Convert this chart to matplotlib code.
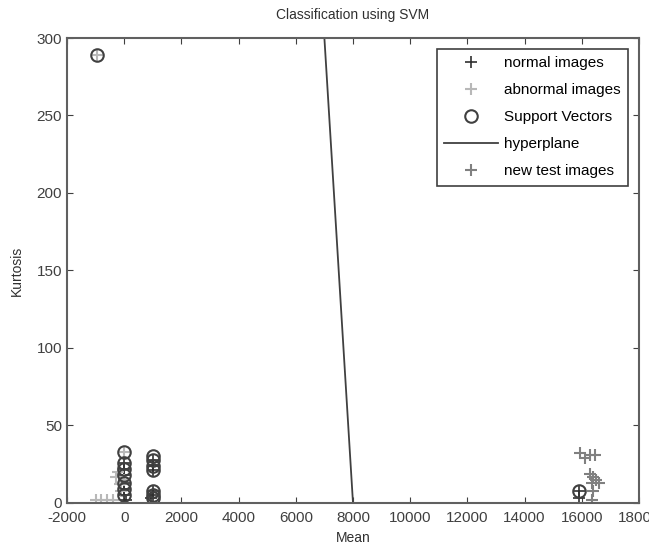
import matplotlib.pyplot as plt

# training points
normal_x = [0, 0, 0, 0, 0, 0, 50, 1000, 1000, 1000, 1000, 1000, 950, 15900, 15900]
normal_y = [26, 22, 18, 13, 9, 5, 2, 28, 24, 21, 8, 5, 3, 8, 3]

abnormal_x = [-950, -1000, -800, -600, -400, -300, -200, -150, -100, 0, 0]
abnormal_y = [289, 2, 2, 2, 2, 17, 20, 12, 8, 33, 15]

# support vectors
sv_x = [-950, 0, 0, 0, 0, 0, 0, 0, 1000, 1000, 1000, 1000, 1000, 1000, 1000, 15900]
sv_y = [289, 33, 26, 22, 18, 13, 9, 5, 30, 28, 24, 21, 8, 5, 3, 8]

# separating line
hp_x = [7000, 8000]
hp_y = [300, 0]

# new test images
test_x = [15950, 16100, 16300, 16450, 16300, 16400, 16500, 16600, 16350, 16400, 16350]
test_y = [32, 29, 31, 31, 19, 17, 15, 13, 13, 8, 2]

xticks = list(range(-2000, 18001, 2000))
yticks = list(range(0, 301, 50))

plt.rcParams["font.family"] = ["Liberation Sans", "DejaVu Sans"]
plt.rcParams["axes.unicode_minus"] = False

fig = plt.figure(figsize=(6.49, 5.54), dpi=100)
ax = fig.add_axes([0.1032, 0.0921, 0.8814, 0.8393])

ax.plot(normal_x, normal_y, "+", color="#303030", markersize=8, mew=1.2,
        linestyle="none", label="normal images")
ax.plot(abnormal_x, abnormal_y, "+", color="#b8b8b8", markersize=8, mew=1.5,
        linestyle="none", label="abnormal images")
ax.plot(sv_x, sv_y, "o", markerfacecolor="none", markeredgecolor="#404040",
        markersize=9, mew=1.5, linestyle="none", label="Support Vectors")
ax.plot(hp_x, hp_y, "-", color="#404040", linewidth=1.3, label="hyperplane")
ax.plot(test_x, test_y, "+", color="#808080", markersize=8, mew=1.5,
        linestyle="none", label="new test images")

ax.set_xlim(-2000, 18000)
ax.set_ylim(0, 300)
ax.set_xticks(xticks)
ax.set_yticks(yticks)
ax.tick_params(direction="in", top=True, right=True, labelsize=11,
               colors="#404040", length=4)
ax.tick_params(axis="x", pad=6)
for s in ax.spines.values():
    s.set_color("#606060")
    s.set_linewidth(1.5)

ax.set_title("Classification using SVM", fontsize=10, color="#303030", pad=14)
ax.set_xlabel("Mean", fontsize=10, color="#303030", labelpad=4)
ax.set_ylabel("Kurtosis", fontsize=10, color="#303030", labelpad=9)

leg = ax.legend(loc="upper right", fontsize=11, fancybox=False,
                framealpha=1, edgecolor="#404040", handlelength=3.5,
                borderpad=0.5, labelspacing=0.85, handletextpad=0.4,
                borderaxespad=0.7)
leg.get_frame().set_linewidth(1.2)

fig.savefig("out.png", dpi=100)
